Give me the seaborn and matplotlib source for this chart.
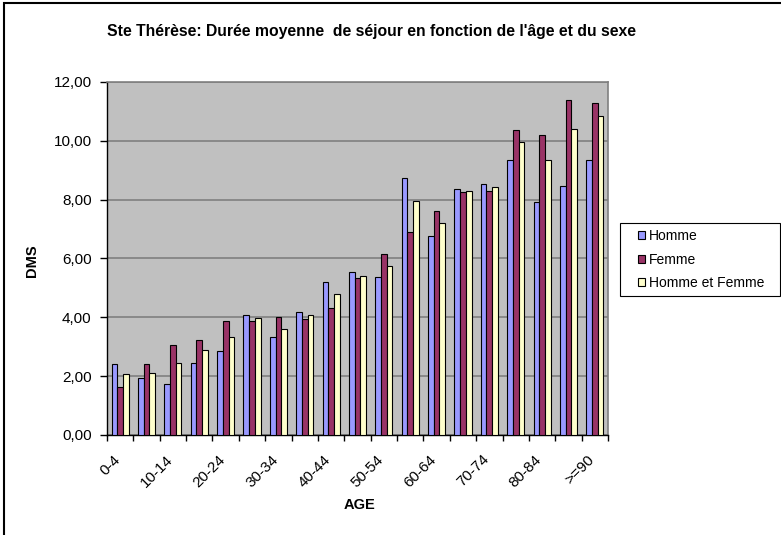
import numpy as np
import pandas as pd
import matplotlib
matplotlib.use('Agg')
import matplotlib.pyplot as plt
import matplotlib.transforms as mtransforms
import seaborn as sns
from matplotlib.patches import Rectangle, Patch
from matplotlib.ticker import FuncFormatter

ages = ['0-4', '5-9', '10-14', '15-19', '20-24', '25-29', '30-34', '35-39', '40-44', '45-49',
        '50-54', '55-59', '60-64', '65-69', '70-74', '75-79', '80-84', '85-89', '>=90']
homme = [2.41, 1.92, 1.72, 2.45, 2.84, 4.07, 3.33, 4.19, 5.20, 5.55,
         5.37, 8.75, 6.78, 8.37, 8.54, 9.34, 7.93, 8.46, 9.36]
femme = [1.64, 2.40, 3.05, 3.24, 3.88, 3.86, 4.02, 3.93, 4.32, 5.32,
         6.15, 6.89, 7.61, 8.26, 8.30, 10.38, 10.20, 11.40, 11.29]
homme_femme = [2.07, 2.12, 2.43, 2.88, 3.34, 3.98, 3.60, 4.07, 4.80, 5.42,
               5.75, 7.96, 7.22, 8.30, 8.42, 9.96, 9.34, 10.41, 10.83]
series = ['Homme', 'Femme', 'Homme et Femme']
colors = ['#9999FF', '#993366', '#FFFFCC']

df = pd.DataFrame({
    'AGE': ages * 3,
    'DMS': homme + femme + homme_femme,
    'Sexe': [s for s in series for _ in ages],
})

plt.rcParams['font.family'] = ['Liberation Sans', 'DejaVu Sans']

fig = plt.figure(figsize=(7.81, 5.35), dpi=100)
ax = fig.add_axes([0.137, 0.187, 0.6415, 0.6598])

sns.barplot(data=df, x='AGE', y='DMS', hue='Sexe', order=ages, hue_order=series,
            palette=colors, saturation=1, width=0.65, edgecolor='black', linewidth=0.8,
            errorbar=None, legend=False, ax=ax, zorder=3)

ax.set_facecolor('#C0C0C0')
ax.set_xlim(-0.5, len(ages) - 0.5)
ax.set_ylim(0, 12)
ax.set_yticks(np.arange(0, 13, 2))
ax.yaxis.set_major_formatter(FuncFormatter(lambda v, p: f'{v:.2f}'.replace('.', ',')))
ax.grid(axis='y', color='#808080', linewidth=1.2, zorder=0)
ax.set_axisbelow(True)

# labels on every other age group, tick marks between groups
ax.set_xticks(np.arange(0, len(ages), 2))
ax.set_xticklabels(ages[::2], rotation=45, ha='right', va='center', rotation_mode='anchor')
ax.set_xticks(np.arange(-0.5, len(ages), 1), minor=True)
ax.tick_params(axis='x', which='major', length=0, pad=16, labelsize=11)
ax.tick_params(axis='x', which='minor', length=4, width=1, color='black', direction='out')
ax.tick_params(axis='y', length=5, width=1, direction='out', labelsize=11, pad=6)
shift = mtransforms.ScaledTranslation(-0.025, 0, fig.dpi_scale_trans)
for lbl in ax.get_xticklabels():
    lbl.set_transform(lbl.get_transform() + shift)

for s in ['top', 'right']:
    ax.spines[s].set_color('#808080')
    ax.spines[s].set_linewidth(1.2)
for s in ['left', 'bottom']:
    ax.spines[s].set_color('black')
    ax.spines[s].set_linewidth(1)

ax.set_xlabel('AGE', fontsize=10.5, fontweight='bold', va='center')
ax.xaxis.set_label_coords(0.505, -0.198)
ax.set_ylabel('DMS', fontsize=10.5, fontweight='bold', va='center')
ax.yaxis.set_label_coords(-0.15, 0.495)

fig.text(0.476, 0.942, "Ste Thérèse: Durée moyenne  de séjour en fonction de l'âge et du sexe",
         ha='center', va='center', fontsize=11.3, fontweight='bold')

# legend drawn without frame, box added separately
handles = [Patch(facecolor=c, edgecolor='black', linewidth=0.8) for c in colors]
fig.legend(handles, series, loc='upper left', bbox_to_anchor=(638 / 781, 1 - 229 / 535),
           frameon=False, fontsize=10, handlelength=0.5, handleheight=0.5,
           handletextpad=0.3, labelspacing=0.69, borderpad=0, borderaxespad=0)
fig.patches.append(Rectangle((620 / 781, 1 - 296 / 535), 160 / 781, 73 / 535,
                             transform=fig.transFigure, fill=False,
                             edgecolor='black', linewidth=0.8))

fig.patches.append(Rectangle((0.005, -0.1), 1.2, 1.095, transform=fig.transFigure,
                             fill=False, edgecolor='black', linewidth=1.5))

fig.savefig('out.png', dpi=100)
